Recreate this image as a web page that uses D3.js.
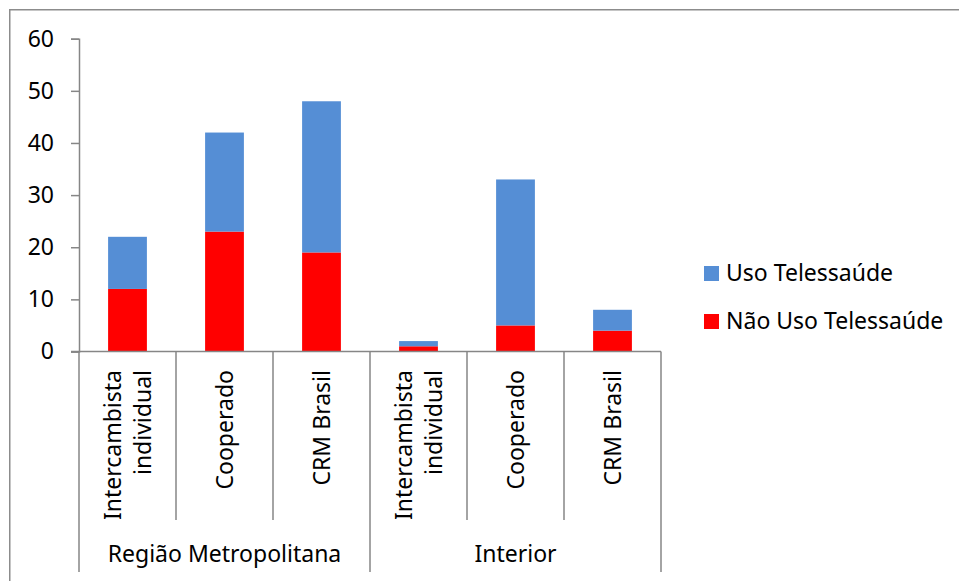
<!DOCTYPE html>
<html>
<head>
<meta charset="utf-8">
<script src="https://cdn.jsdelivr.net/npm/d3@7"></script>
<style>
  html, body { margin: 0; padding: 0; background: #fff; }
  svg { display: block; font-family: "Noto Sans", "Open Sans", sans-serif; }
</style>
</head>
<body>
<svg id="chart" width="959" height="581"></svg>
<script>
// Categories (two-level: group / type)
const groups = ["Região Metropolitana", "Interior"];
const types = [["Intercambista", "individual"], ["Cooperado"], ["CRM Brasil"]];
const categories = [
  "RM|Intercambista individual", "RM|Cooperado", "RM|CRM Brasil",
  "INT|Intercambista individual", "INT|Cooperado", "INT|CRM Brasil"
];
// Stacked series values
const naoUso = [12, 23, 19, 1, 5, 4];   // Não Uso Telessaúde
const uso    = [10, 19, 29, 1, 28, 4];  // Uso Telessaúde
const yTicks = [0, 10, 20, 30, 40, 50, 60];
const seriesNames = ["Uso Telessaúde", "Não Uso Telessaúde"];
const colors = { uso: "#558ED5", nao: "#FF0000" };
const axisColor = "#868686";
const fs = 23;

const svg = d3.select("#chart");

// Outer frame (top and left edges visible)
svg.append("rect")
  .attr("x", 9.75).attr("y", 9.75)
  .attr("width", 1000).attr("height", 1000)
  .attr("fill", "none").attr("stroke", "#8c8c8c").attr("stroke-width", 1.5);

const x = d3.scaleBand().domain(categories).range([79, 661]).padding(0);
const y = d3.scaleLinear().domain([0, 60]).range([351.5, 38.7]);
const barW = x.bandwidth() * 0.4;

const table = categories.map((c, i) => ({ cat: c, nao: naoUso[i], uso: uso[i] }));
const stack = d3.stack().keys(["nao", "uso"])(table);

// Bars
svg.append("g").selectAll("g")
  .data(stack).join("g")
  .attr("fill", d => colors[d.key])
  .selectAll("rect")
  .data(d => d).join("rect")
  .attr("x", d => x(d.data.cat) + (x.bandwidth() - barW) / 2)
  .attr("width", barW)
  .attr("y", d => y(d[1]))
  .attr("height", d => y(d[0]) - y(d[1]));

// Y axis
const yAxis = svg.append("g").attr("transform", "translate(79,0)")
  .call(d3.axisLeft(y).tickValues(yTicks).tickSize(8).tickPadding(17));
yAxis.select(".domain").attr("stroke", axisColor).attr("stroke-width", 1.5);
yAxis.selectAll(".tick line").attr("stroke", axisColor).attr("stroke-width", 1.5);
yAxis.selectAll(".tick text")
  .attr("font-family", "Noto Sans").attr("font-size", fs).attr("fill", "#000");

// Category axis baseline
svg.append("line")
  .attr("x1", 71).attr("x2", 661)
  .attr("y1", y(0)).attr("y2", y(0))
  .attr("stroke", axisColor).attr("stroke-width", 1.5);

// Separators between categories
const edges = categories.map(c => x(c)).concat([x.range()[1]]);
svg.append("g").selectAll("line")
  .data(edges).join("line")
  .attr("x1", d => d).attr("x2", d => d)
  .attr("y1", y(0))
  .attr("y2", (d, i) => (i % 3 === 0) ? 572 : 520)
  .attr("stroke", axisColor).attr("stroke-width", 1.5);

// Rotated category labels
const lineH = 30;
categories.forEach((c, i) => {
  const lines = types[i % 3];
  const cx = x(c) + x.bandwidth() / 2;
  const t = svg.append("text")
    .attr("transform", `translate(${cx},370) rotate(-90)`)
    .attr("text-anchor", "end")
    .attr("font-size", fs).attr("fill", "#000");
  lines.forEach((ln, j) => {
    t.append("tspan")
      .attr("x", 0)
      .attr("y", (j - (lines.length - 1) / 2) * lineH)
      .attr("dy", "0.35em")
      .text(ln);
  });
});

// Group labels
groups.forEach((g, gi) => {
  const x0 = x(categories[gi * 3]);
  const x1 = x(categories[gi * 3 + 2]) + x.bandwidth();
  svg.append("text")
    .attr("x", (x0 + x1) / 2).attr("y", 562)
    .attr("text-anchor", "middle")
    .attr("font-size", fs).attr("fill", "#000")
    .text(g);
});

// Legend
const legend = svg.append("g");
const legendItems = [
  { name: seriesNames[0], color: colors.uso, y: 273 },
  { name: seriesNames[1], color: colors.nao, y: 321 }
];
legendItems.forEach(it => {
  legend.append("rect")
    .attr("x", 704).attr("y", it.y - 7)
    .attr("width", 15).attr("height", 15)
    .attr("fill", it.color);
  legend.append("text")
    .attr("x", 726).attr("y", it.y)
    .attr("dy", "0.35em")
    .attr("font-size", fs).attr("fill", "#000")
    .text(it.name);
});
</script>
</body>
</html>
